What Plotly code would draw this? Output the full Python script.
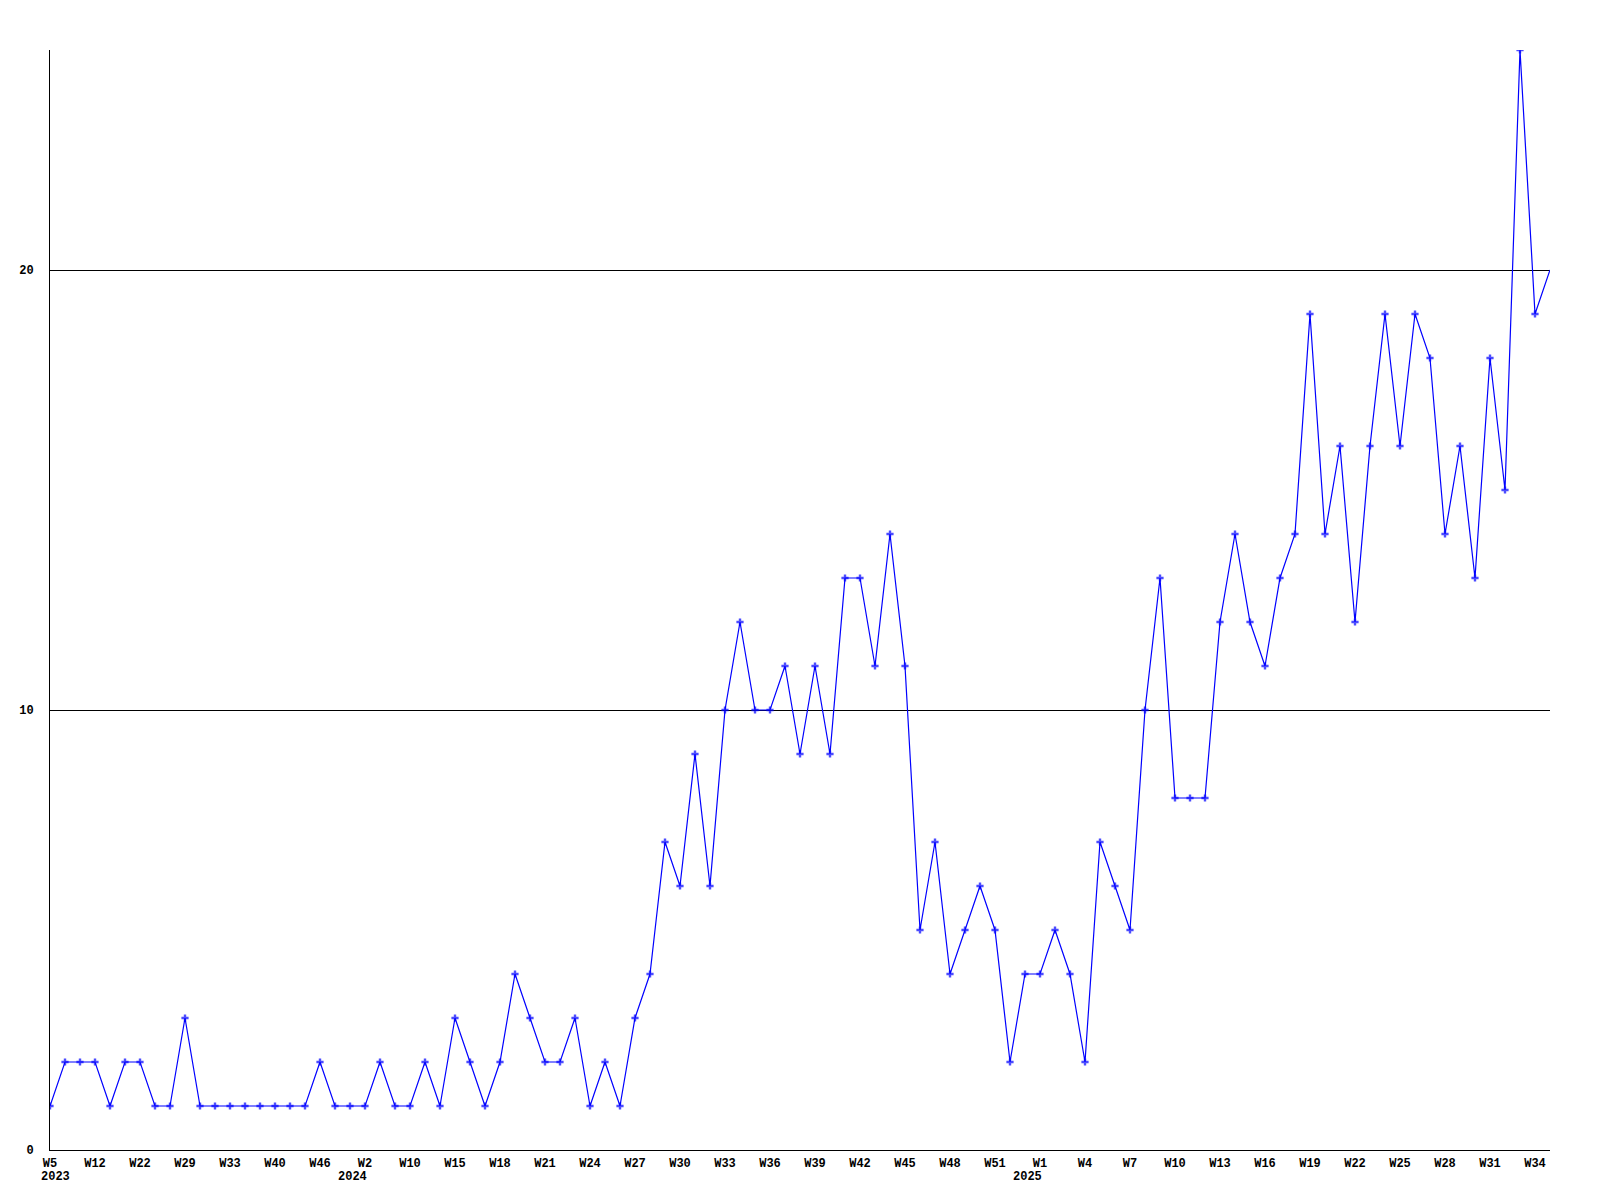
import plotly.graph_objects as go

# ISO-style week labels for each data point (only every 3rd is shown on the axis)
years = (["2023"] * 21 + ["2024"] * 45 + ["2025"] * 35)
weeks = ([5, 7, 9, 12, 15, 19, 22, 25, 27, 29, 30, 31, 33, 35, 38, 40, 42, 44, 46, 49, 51]
         + [2, 4, 7, 10, 12, 14] + list(range(15, 54))
         + list(range(1, 36)))
counts = [1, 2, 2, 2, 1, 2, 2, 1, 1, 3,
          1, 1, 1, 1, 1, 1, 1, 1, 2, 1,
          1, 1, 2, 1, 1, 2, 1, 3, 2, 1,
          2, 4, 3, 2, 2, 3, 1, 2, 1, 3,
          4, 7, 6, 9, 6, 10, 12, 10, 10, 11,
          9, 11, 9, 13, 13, 11, 14, 11, 5, 7,
          4, 5, 6, 5, 2, 4, 4, 5, 4, 2,
          7, 6, 5, 10, 13, 8, 8, 8, 12, 14,
          12, 11, 13, 14, 19, 14, 16, 12, 16, 19,
          16, 19, 18, 14, 16, 13, 18, 15, 25, 19,
          20]

cats = [f"{y}-W{w}" for y, w in zip(years, weeks)]

tickvals = []
ticktext = []
year_marks = []
prev_year = None
for i in range(0, len(cats), 3):
    tickvals.append(cats[i])
    ticktext.append(f"W{weeks[i]}")
    if years[i] != prev_year:
        year_marks.append((cats[i], years[i]))
        prev_year = years[i]

sizes = [6] * len(counts)
sizes[-1] = 0

fig = go.Figure()
fig.add_trace(go.Scatter(
    x=cats, y=counts, mode="lines+markers",
    line=dict(color="#0000ff", width=1.2),
    marker=dict(symbol="cross", size=sizes, color="#0000ff", line=dict(width=0)),
    showlegend=False, hoverinfo="x+y",
))

font = dict(family="Liberation Mono, DejaVu Sans Mono, monospace", size=12, color="black", weight="bold")

for k, (cat, yr) in enumerate(year_marks):
    fig.add_annotation(
        x=cat, xref="x", y=0, yref="paper",
        text=yr, showarrow=False, font=font,
        xanchor="left" if k == 0 else "right",
        xshift=-11 if k == 0 else 4,
        yanchor="top", yshift=-18,
    )

# page body adds an 8px offset, so margins are compensated
fig.update_layout(
    width=1600, height=1200,
    margin=dict(l=42, r=58, t=42, b=58),
    paper_bgcolor="white", plot_bgcolor="white",
    font=font,
    xaxis=dict(
        type="category", range=[0, len(cats) - 1],
        tickvals=tickvals, ticktext=ticktext,
        showgrid=False, zeroline=False,
        showline=True, linecolor="black", linewidth=1,
        ticks="outside", ticklen=2, tickcolor="white",
        tickfont=font,
    ),
    yaxis=dict(
        range=[0, 25], tickvals=[0, 10, 20],
        showgrid=True, gridcolor="black", gridwidth=1,
        zeroline=False,
        showline=True, linecolor="black", linewidth=1,
        ticks="outside", ticklen=13, tickcolor="white",
        tickfont=font,
    ),
)

fig.write_html("out.html")
